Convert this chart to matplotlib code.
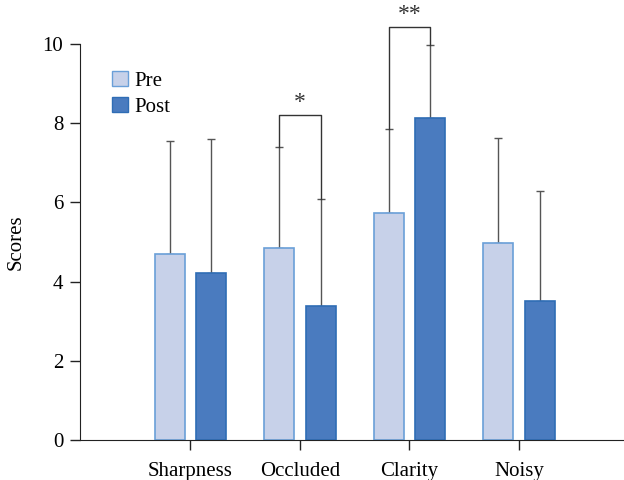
import numpy as np
import matplotlib.pyplot as plt
from matplotlib.patches import Patch

plt.rcParams['font.family'] = ['Liberation Serif', 'DejaVu Serif']

categories = ["Sharpness", "Occluded", "Clarity", "Noisy"]
pre_mean = [4.70, 4.85, 5.73, 4.97]
pre_sd = [2.85, 2.55, 2.12, 2.66]
post_mean = [4.22, 3.38, 8.13, 3.51]
post_sd = [3.38, 2.71, 1.85, 2.78]
# significance: (category index, label, bracket height)
sig = [(1, "*", 8.2), (2, "**", 10.43)]

x = np.arange(len(categories))
w = 0.275
off = 0.19

fig = plt.figure(figsize=(6.24, 4.8), dpi=100)
ax = fig.add_axes([0.128, 0.0833, 0.872, 0.825])

ax.bar(x - off, pre_mean, w, color="#c7d1e9", edgecolor="#6a9fd8", linewidth=1.2,
       label="Pre", zorder=2)
ax.bar(x + off, post_mean, w, color="#4a7bbf", edgecolor="#2f6db5", linewidth=1.2,
       label="Post", zorder=2)
ax.errorbar(x - off, pre_mean, yerr=[np.zeros(4), pre_sd], fmt="none",
            ecolor="#555555", elinewidth=1.0, capsize=3, capthick=1.0, zorder=1)
ax.errorbar(x + off, post_mean, yerr=[np.zeros(4), post_sd], fmt="none",
            ecolor="#555555", elinewidth=1.0, capsize=3, capthick=1.0, zorder=1)

for i, lab, h in sig:
    yl = pre_mean[i] + pre_sd[i]
    yr = post_mean[i] + post_sd[i]
    ax.plot([i - off, i - off, i + off, i + off], [yl, h, h, yr],
            color="#333333", lw=1.0, clip_on=False)
    ax.text(i, h + 0.05, lab, ha="center", va="bottom", fontsize=17,
            color="#333333", clip_on=False)

ax.set_xlim(-1.01, 3.96)
ax.set_ylim(0, 10)
ax.set_yticks([0, 2, 4, 6, 8, 10])
ax.set_xticks(x)
ax.set_xticklabels(categories)
ax.set_ylabel("Scores", fontsize=15, labelpad=12)
ax.tick_params(axis="both", labelsize=15, length=7, width=1, direction="out",
               color="#222222", pad=5)
ax.tick_params(axis="x", pad=9)
for s in ["top", "right"]:
    ax.spines[s].set_visible(False)
for s in ["left", "bottom"]:
    ax.spines[s].set_color("#222222")

handles = [Patch(facecolor="#c7d1e9", edgecolor="#6a9fd8", label="Pre"),
           Patch(facecolor="#4a7bbf", edgecolor="#2f6db5", label="Post")]
ax.legend(handles=handles, loc="upper left", bbox_to_anchor=(0.025, 0.98),
          frameon=False, fontsize=15, handlelength=0.75, handleheight=0.75,
          handletextpad=0.3, labelspacing=0.3)

plt.savefig("out.png", dpi=100)
